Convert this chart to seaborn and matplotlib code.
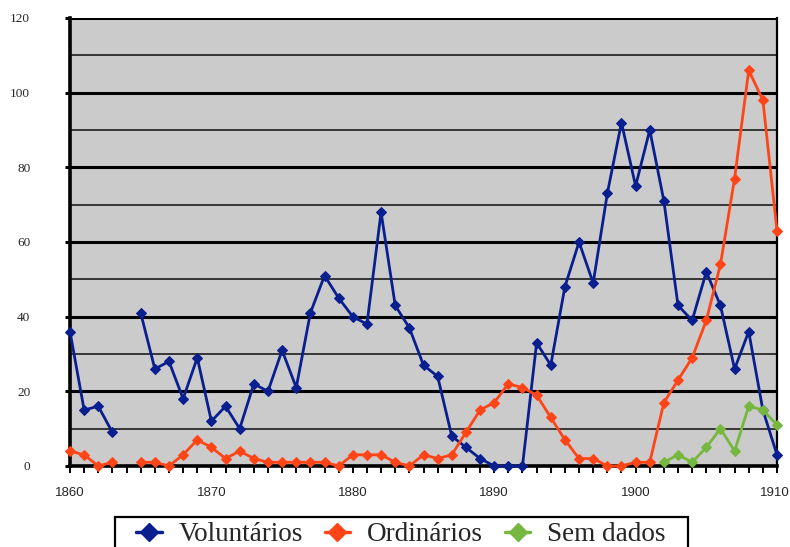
import numpy as np
import pandas as pd
import matplotlib
matplotlib.use("Agg")
import matplotlib.pyplot as plt
import matplotlib.transforms as mtransforms
from matplotlib.lines import Line2D
from matplotlib.patches import Rectangle
from matplotlib.ticker import MultipleLocator
import seaborn as sns

# dados (None = sem valor)
anos = list(range(1860, 1911))
voluntarios = [36, 15, 16, 9, None, 41, 26, 28, 18, 29,
               12, 16, 10, 22, 20, 31, 21, 41, 51, 45,
               40, 38, 68, 43, 37, 27, 24, 8, 5, 2,
               0, 0, 0, 33, 27, 48, 60, 49, 73, 92,
               75, 90, 71, 43, 39, 52, 43, 26, 36, 15, 3]
ordinarios = [4, 3, 0, 1, None, 1, 1, 0, 3, 7,
              5, 2, 4, 2, 1, 1, 1, 1, 1, 0,
              3, 3, 3, 1, 0, 3, 2, 3, 9, 15,
              17, 22, 21, 19, 13, 7, 2, 2, 0, 0,
              1, 1, 17, 23, 29, 39, 54, 77, 106, 98, 63]
anos_sem_dados = list(range(1902, 1911))
sem_dados = [1, 3, 1, 5, 10, 4, 16, 15, 11]

series = ["Voluntários", "Ordinários", "Sem dados"]
cores = ["#0a1f8f", "#ff4517", "#76b83f"]
x_ticks = [1860, 1870, 1880, 1890, 1900, 1910]


def to_long(nome, xs, ys):
    df = pd.DataFrame({"ano": xs, "valor": ys, "serie": nome})
    df["valor"] = pd.to_numeric(df["valor"])
    df["segmento"] = df["valor"].isna().cumsum()
    return df.dropna()


dados = pd.concat([
    to_long(series[0], anos, voluntarios),
    to_long(series[1], anos, ordinarios),
    to_long(series[2], anos_sem_dados, sem_dados),
], ignore_index=True)
dados["unit"] = dados["serie"] + dados["segmento"].astype(str)

sns.set_style("white")
plt.rcParams["font.family"] = ["Liberation Sans", "DejaVu Sans"]

fig = plt.figure(figsize=(7.9, 5.47), dpi=100)
ax = fig.add_axes([70 / 790, 1 - 466 / 547, 707 / 790, 448 / 547])
ax.set_facecolor("#cbcbcb")

sns.lineplot(data=dados, x="ano", y="valor", hue="serie", units="unit",
             estimator=None, hue_order=series, palette=cores, marker="D",
             markersize=5, linewidth=2.0, legend=False, ax=ax, zorder=3)
for ln in ax.lines:
    ln.set_markeredgecolor(ln.get_color())
    ln.set_clip_on(False)

ax.set_xlim(1860, 1910)
ax.set_ylim(0, 120)
ax.set_xticks(x_ticks)
ax.set_xticklabels([str(t) for t in x_ticks],
                   family=["Liberation Sans", "DejaVu Sans"])
ax.xaxis.set_minor_locator(MultipleLocator(1))
ax.yaxis.set_major_locator(MultipleLocator(20))
ax.yaxis.set_minor_locator(MultipleLocator(10))

ax.grid(which="major", axis="y", color="black", linewidth=2.2, zorder=1)
ax.grid(which="minor", axis="y", color="#2a2a2a", linewidth=1.3, zorder=1)
ax.set_axisbelow(True)

ax.tick_params(axis="x", which="both", direction="out", length=5, width=1.4,
               color="black", bottom=True, labelsize=9.5, pad=10)
ax.tick_params(axis="y", which="major", direction="out", length=3.6, width=2.2,
               color="black", left=True, labelsize=9.5, pad=25)
ax.tick_params(axis="y", which="minor", length=0)
for lbl in ax.get_yticklabels():
    lbl.set_family(["Liberation Serif", "DejaVu Serif"])
# "1910" encosta na borda direita
ultimo = ax.get_xticklabels()[-1]
ultimo.set_horizontalalignment("right")
ultimo.set_transform(ultimo.get_transform() +
                     mtransforms.ScaledTranslation(13 / 100, 0, fig.dpi_scale_trans))

for lado in ["left", "bottom"]:
    ax.spines[lado].set_linewidth(2.6)
    ax.spines[lado].set_color("black")
ax.spines["right"].set_linewidth(1.6)
ax.spines["right"].set_color("black")
ax.spines["top"].set_visible(False)
ax.set_xlabel("")
ax.set_ylabel("")

# caixa da legenda (cortada pela borda inferior, como no original)
fig.patches.append(Rectangle((115 / 790, -0.05), 573 / 790, 0.05 + 1 - 517 / 547,
                             transform=fig.transFigure, facecolor="white",
                             edgecolor="black", linewidth=1.6, zorder=1))
handles = [Line2D([0], [0], color=c, marker="D", markersize=9, linewidth=2.5)
           for c in cores]
leg = fig.legend(handles, series, loc="upper left",
                 bbox_to_anchor=(136 / 790, 1 - 522 / 547), ncol=3,
                 prop={"family": ["Liberation Serif", "DejaVu Serif"], "size": 19.5},
                 frameon=False, handlelength=0.95, handletextpad=0.62,
                 columnspacing=0.8, borderpad=0, borderaxespad=0)
leg.set_zorder(2)

fig.savefig("out.png", dpi=100)
